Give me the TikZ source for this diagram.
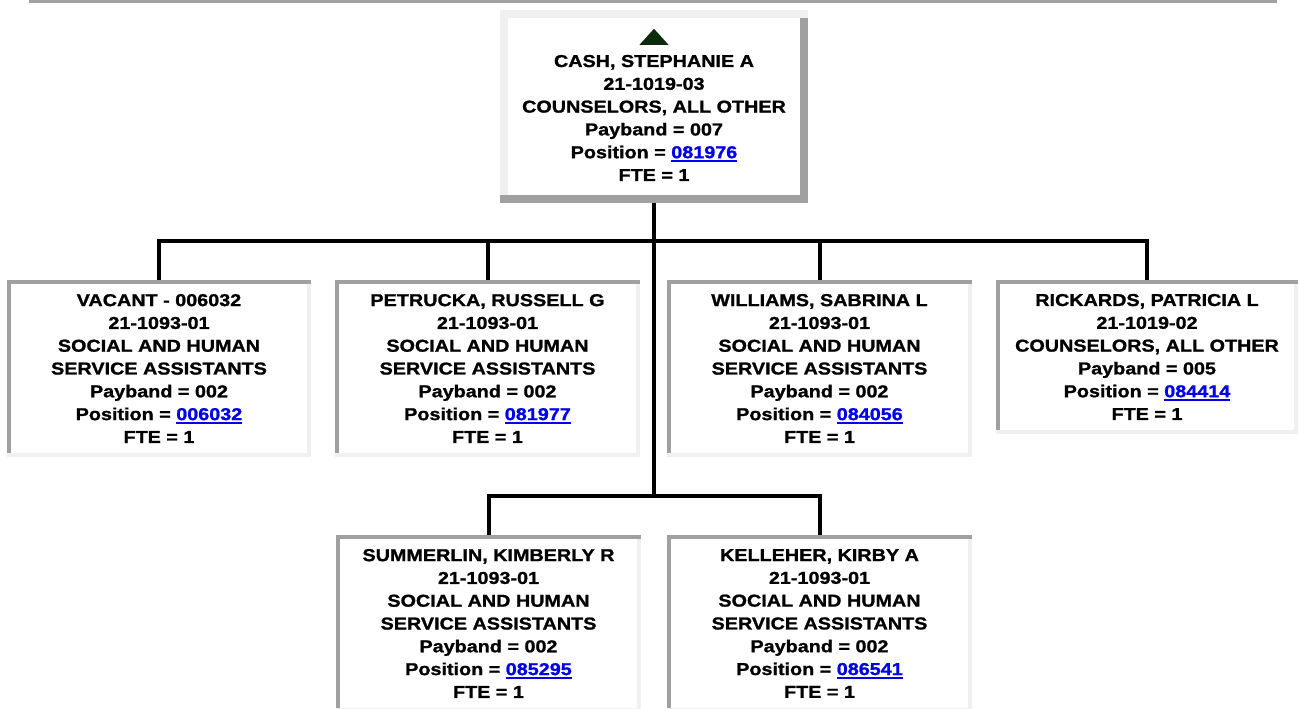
\documentclass[tikz,border=0pt]{standalone}
\usepackage{fontspec}
\setmainfont{Liberation Sans}[FakeStretch=1.15,FakeBold=1.2]
\usetikzlibrary{calc}
\definecolor{dkgray}{HTML}{A0A0A0}
\definecolor{ltgray}{HTML}{F0F0F0}
\definecolor{linkblue}{RGB}{0,0,235}
\definecolor{trigreen}{RGB}{12,42,12}
\newcommand\lnk[1]{{\color{linkblue}\setbox0\hbox{#1}\rlap{\rule[-3.5pt]{\wd0}{2pt}}\box0}}
\tikzset{
  conn/.style={line width=4pt, black},
  orgtext/.style={align=center, inner sep=0pt, font=\bfseries\fontsize{17.2}{22.8}\selectfont},
  topbox/.style={orgtext, rectangle, fill=white,
    minimum width=308pt, minimum height=193pt,
    path picture={
      \fill[ltgray] (path picture bounding box.north west) rectangle ([yshift=-8pt]path picture bounding box.north east);
      \fill[ltgray] (path picture bounding box.north west) rectangle ([xshift=8pt]path picture bounding box.south west);
      \fill[dkgray] ([yshift=-8pt]path picture bounding box.north east) rectangle ([xshift=-8pt]path picture bounding box.south east);
      \fill[dkgray] (path picture bounding box.south west) rectangle ([yshift=8pt]path picture bounding box.south east);
    }},
  childbox/.style={orgtext, rectangle, fill=white,
    minimum width=305pt, minimum height=177pt,
    path picture={
      \fill[ltgray] ([yshift=-4pt]path picture bounding box.north east) rectangle ([xshift=-4pt]path picture bounding box.south east);
      \fill[ltgray] (path picture bounding box.south west) rectangle ([yshift=4pt]path picture bounding box.south east);
      \fill[dkgray] (path picture bounding box.north west) rectangle ([yshift=-4pt]path picture bounding box.north east);
      \fill[dkgray] (path picture bounding box.north west) rectangle ([xshift=4pt,yshift=4pt]path picture bounding box.south west);
    }}
}
\begin{document}
\begin{tikzpicture}[x=1pt,y=1pt]
\useasboundingbox (0,0) rectangle (1299,709);
\fill[dkgray] (29,706) rectangle (1277,709);

\node[topbox] (top) at (654,602.5) {\rule{0pt}{35pt}CASH, STEPHANIE A\\21-1019-03\\COUNSELORS, ALL OTHER\\Payband = 007\\Position = \lnk{081976}\\FTE = 1};
\fill[trigreen] ([xshift=-14.5pt,yshift=-35pt]top.north) -- ([yshift=-19pt]top.north) -- ([xshift=14.5pt,yshift=-35pt]top.north) -- cycle;

\node[childbox, minimum width=304pt] (vac) at (159,340.5) {VACANT - 006032\\21-1093-01\\SOCIAL AND HUMAN\\SERVICE ASSISTANTS\\Payband = 002\\Position = \lnk{006032}\\FTE = 1};
\node[childbox] (pet) at (487.5,340.5) {PETRUCKA, RUSSELL G\\21-1093-01\\SOCIAL AND HUMAN\\SERVICE ASSISTANTS\\Payband = 002\\Position = \lnk{081977}\\FTE = 1};
\node[childbox] (wil) at (819.5,340.5) {WILLIAMS, SABRINA L\\21-1093-01\\SOCIAL AND HUMAN\\SERVICE ASSISTANTS\\Payband = 002\\Position = \lnk{084056}\\FTE = 1};
\node[childbox, minimum width=302pt, minimum height=154pt] (ric) at (1147,352) {RICKARDS, PATRICIA L\\21-1019-02\\COUNSELORS, ALL OTHER\\Payband = 005\\Position = \lnk{084414}\\FTE = 1};
\node[childbox] (sum) at (488.5,85.5) {SUMMERLIN, KIMBERLY R\\21-1093-01\\SOCIAL AND HUMAN\\SERVICE ASSISTANTS\\Payband = 002\\Position = \lnk{085295}\\FTE = 1};
\node[childbox] (kel) at (819.5,85.5) {KELLEHER, KIRBY A\\21-1093-01\\SOCIAL AND HUMAN\\SERVICE ASSISTANTS\\Payband = 002\\Position = \lnk{086541}\\FTE = 1};

\coordinate (j1) at (654,468);
\coordinate (j2) at (654,213);
\draw[conn] (top.south) -- (j1) -| (vac.north);
\draw[conn] (j1) -| (pet.north);
\draw[conn] (j1) -| (wil.north);
\draw[conn] (j1) -| (ric.north);
\draw[conn] (j1) -- (j2) -| (sum.north);
\draw[conn] (j2) -| (kel.north);
\end{tikzpicture}
\end{document}
